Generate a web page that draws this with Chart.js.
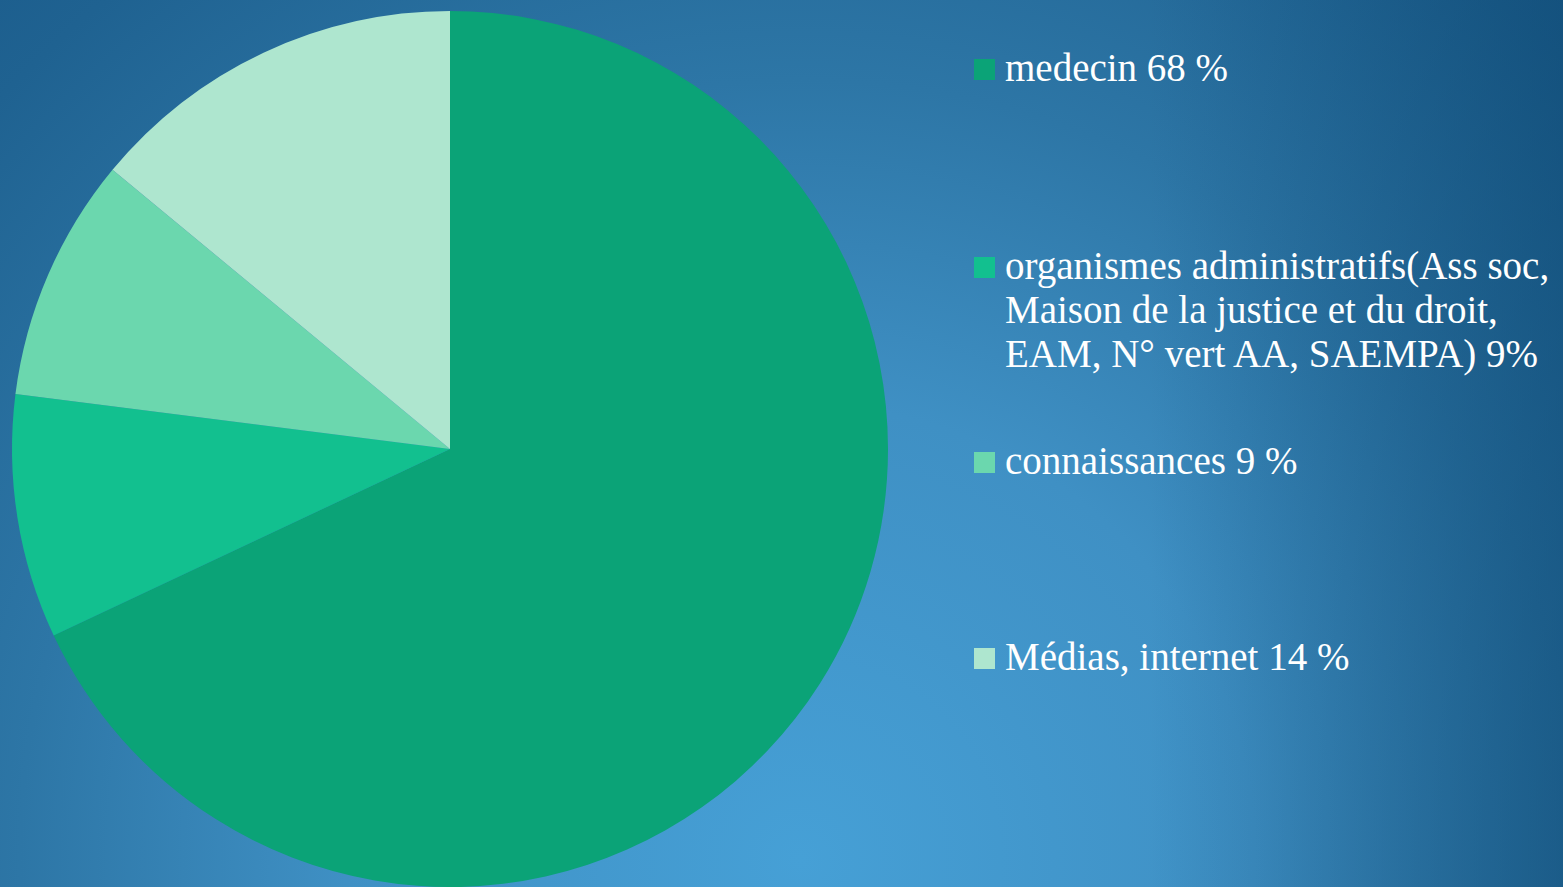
<!DOCTYPE html>
<html>
<head>
<meta charset="utf-8">
<script src="https://cdn.jsdelivr.net/npm/chart.js@4.4.1/dist/chart.umd.min.js"></script>
<style>
    html, body { margin: 0; padding: 0; }
    body {
        width: 1563px;
        height: 887px;
        overflow: hidden;
        position: relative;
        background:
            linear-gradient(90deg, rgba(12, 70, 112, 0) 0px, rgba(12, 70, 112, 0) 1150px, rgba(12, 70, 112, 0.55) 1563px),
            radial-gradient(circle 1300px at 800px 860px, #46a0d6 0%, #3f90c4 35%, #2d76a6 60%, #1f6291 85%, #1a5a8a 100%);
        font-family: 'Liberation Serif', 'DejaVu Serif', serif;
    }
    #wrap {
        position: absolute;
        left: 0;
        top: 0;
        width: 900px;
        height: 887px;
    }
    #legend {
        position: absolute;
        left: 974px;
        top: 0;
        color: #fff;
    }
    .item {
        position: absolute;
        left: 0;
        white-space: nowrap;
        font-size: 39px;
        line-height: 44px;
    }
    .box {
        position: absolute;
        left: 0;
        width: 21px;
        height: 21px;
    }
    .txt {
        position: absolute;
        left: 31px;
        top: 0;
    }
</style>
</head>
<body>
<div id="wrap"><canvas id="pieChart"></canvas></div>
<div id="legend"></div>
<script>
    // Données
    const categories = [
        'medecin 68 %',
        'organismes administratifs(Ass soc,\nMaison de la justice et du droit,\nEAM, N° vert AA, SAEMPA) 9%',
        'connaissances 9 %',
        'Médias, internet 14 %'
    ];
    const values = [68, 9, 9, 14];
    const colors = ['#0ba377', '#12c08f', '#6bd7ae', '#aee6cf'];

    // position verticale de chaque entrée de légende (haut du texte)
    const legendTops = [46, 244, 439, 635];

    const ctx = document.getElementById('pieChart');

    new Chart(ctx, {
        type: 'pie',
        data: {
            labels: categories,
            datasets: [{
                data: values,
                backgroundColor: colors,
                borderWidth: 0
            }]
        },
        options: {
            responsive: true,
            maintainAspectRatio: false,
            animation: false,
            layout: {
                padding: { top: 11, bottom: 0, left: 0, right: 0 }
            },
            plugins: {
                legend: { display: false },
                tooltip: { enabled: false }
            }
        }
    });

    // Légende en HTML (texte sur plusieurs lignes)
    const legend = document.getElementById('legend');
    categories.forEach((label, i) => {
        const item = document.createElement('div');
        item.className = 'item';
        item.style.top = legendTops[i] + 'px';

        const box = document.createElement('div');
        box.className = 'box';
        box.style.top = '13px';
        box.style.background = colors[i];
        item.appendChild(box);

        const txt = document.createElement('div');
        txt.className = 'txt';
        txt.innerHTML = label.split('\n').join('<br>');
        item.appendChild(txt);

        legend.appendChild(item);
    });
</script>
</body>
</html>
